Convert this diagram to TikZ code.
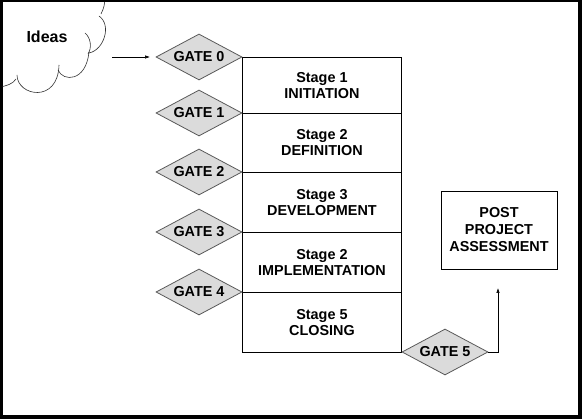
\documentclass[tikz,border=0pt]{standalone}
\usepackage{fontspec}
\setmainfont{Liberation Sans}
\usetikzlibrary{shapes.geometric,arrows.meta}
\begin{document}
\begin{tikzpicture}[x=1pt,y=-1pt,
  lbl/.style={font=\bfseries\fontsize{14.4}{16}\selectfont},
  gate/.style={lbl, diamond, draw=black!65, fill=black!14, line width=0.8pt,
    minimum width=86pt, minimum height=46pt, inner sep=0pt, aspect=1.87},
  stagebox/.style={lbl, draw=black, line width=0.9pt, minimum width=159pt,
    align=center, anchor=north west, inner sep=0pt},
  arr/.style={line width=0.6pt, -{Latex[length=5pt,width=3.5pt]}},
  cloudline/.style={line width=0.6pt, black!80}
  ]
\useasboundingbox (0,0) rectangle (582,419);
\fill[black] (0,0) rectangle (582,419);
\fill[white] (2.5,2.5) rectangle (578,415);

% cloud
\begin{scope}
\clip (2.5,2.5) rectangle (578,415);
\draw[cloudline] (0,87) .. controls (6,86) and (13,84) .. (16,79);
\draw[cloudline] (17,75) .. controls (17,96) and (58,104) .. (59,65);
\draw[cloudline] (58,70) .. controls (63,82) and (86,82) .. (89,52);
\draw[cloudline] (89,53) .. controls (104,50) and (112,25) .. (99,16);
\draw[cloudline] (101,14) .. controls (104,8) and (105,4) .. (105,-5);
\draw[cloudline] (85,33) .. controls (91,38) and (92,48) .. (88,54);
\end{scope}
\node[font=\bfseries\fontsize{16}{18}\selectfont] (ideas) at (47,37) {Ideas};

% stages
\node[stagebox, minimum height=56pt] (s1) at (242,57) {Stage 1\\INITIATION};
\node[stagebox, minimum height=59pt] (s2) at (242,113) {Stage 2\\DEFINITION};
\node[stagebox, minimum height=60pt] (s3) at (242,172) {Stage 3\\DEVELOPMENT};
\node[stagebox, minimum height=60pt] (s4) at (242,232) {Stage 2\\IMPLEMENTATION};
\node[stagebox, minimum height=60pt] (s5) at (242,292) {Stage 5\\CLOSING};

% gates
\node[gate] (g0) at (199,57) {GATE 0};
\node[gate] (g1) at (199,113) {GATE 1};
\node[gate] (g2) at (199,172) {GATE 2};
\node[gate] (g3) at (199,232) {GATE 3};
\node[gate] (g4) at (199,292) {GATE 4};
\node[gate] (g5) at (445,352) {GATE 5};

% post project
\node[draw=black, line width=0.9pt, minimum width=116pt, minimum height=78pt,
  align=center, font=\bfseries\fontsize{14.4}{17}\selectfont] (post) at (499,230)
  {POST\\PROJECT\\ASSESSMENT};

% arrows
\coordinate (ia) at (112,57);
\coordinate (ib) at (150,57);
\draw[arr] (ia) -- (ib);
\coordinate (c5) at (498,352);
\coordinate (c6) at (498,288);
\draw[arr] (g5.east) -- (c5) -- (c6);
\end{tikzpicture}
\end{document}
